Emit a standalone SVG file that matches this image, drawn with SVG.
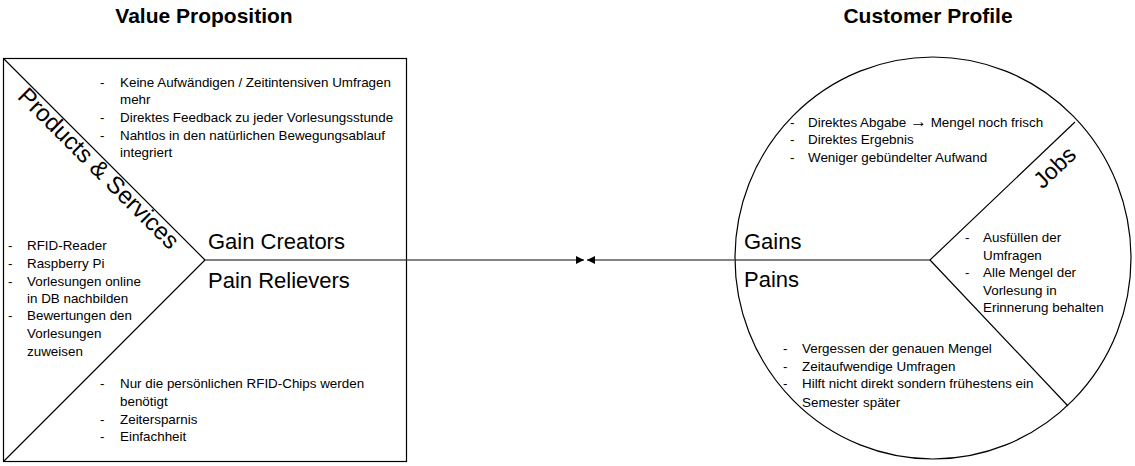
<svg xmlns="http://www.w3.org/2000/svg" width="1135" height="466" viewBox="0 0 1135 466">
<style>
.t{font-family:"Liberation Sans",Arial,sans-serif;font-size:13.4px;fill:#000}
.h{font-family:"Liberation Sans",Arial,sans-serif;font-size:21px;font-weight:bold;fill:#000}
.big{font-family:"Liberation Sans",Arial,sans-serif;font-size:22px;fill:#000}
.ln{stroke:#000;stroke-width:1.2;fill:none}
.cn{stroke:#5a5a5a;stroke-width:1.3;fill:none}
</style>
<defs>
<marker id="ah" markerWidth="8" markerHeight="8" refX="8" refY="4" orient="auto" markerUnits="userSpaceOnUse">
<path d="M0,0 L8,4 L0,8 Z" fill="#000"/>
</marker>
</defs>
<rect width="1135" height="466" fill="#fff"/>
<text class="h" x="204" y="23" text-anchor="middle">Value Proposition</text>
<text class="h" x="928" y="23" text-anchor="middle">Customer Profile</text>

<g id="value-proposition">
<rect class="ln" x="3.5" y="58.5" width="403" height="403"/>
<path class="ln" d="M3.5,58.5 L205,260 L3.5,461.5 M205,260 L406.5,260"/>
<text class="big" transform="translate(93,174) rotate(45)" text-anchor="middle" style="font-size:24px">Products &amp; Services</text>
<text class="big" x="208" y="249">Gain Creators</text>
<text class="big" x="208" y="288">Pain Relievers</text>
<g class="t">
<text x="100" y="87">-</text><text x="120" y="87">Keine Aufwändigen / Zeitintensiven Umfragen</text>
<text x="120" y="104">mehr</text>
<text x="100" y="122">-</text><text x="120" y="122">Direktes Feedback zu jeder Vorlesungsstunde</text>
<text x="100" y="140">-</text><text x="120" y="140">Nahtlos in den natürlichen Bewegungsablauf</text>
<text x="120" y="157">integriert</text>
</g>
<g class="t">
<text x="8" y="250">-</text><text x="27" y="250">RFID-Reader</text>
<text x="8" y="268">-</text><text x="27" y="268">Raspberry Pi</text>
<text x="8" y="286">-</text><text x="27" y="286">Vorlesungen online</text>
<text x="27" y="303">in DB nachbilden</text>
<text x="8" y="320">-</text><text x="27" y="320">Bewertungen den</text>
<text x="27" y="338">Vorlesungen</text>
<text x="27" y="356">zuweisen</text>
</g>
<g class="t">
<text x="100" y="388">-</text><text x="120" y="388">Nur die persönlichen RFID-Chips werden</text>
<text x="120" y="406">benötigt</text>
<text x="100" y="424">-</text><text x="120" y="424">Zeitersparnis</text>
<text x="100" y="441">-</text><text x="120" y="441">Einfachheit</text>
</g>
</g>

<g id="customer-profile">
<ellipse class="ln" cx="933" cy="258" rx="198" ry="201"/>
<path class="ln" d="M735,260 L930,260 L1075,122 M930,260 L1068,406"/>
<text class="big" transform="translate(1060,173) rotate(-43.6)" text-anchor="middle" style="font-size:23px">Jobs</text>
<text class="big" x="744" y="249">Gains</text>
<text class="big" x="744" y="287">Pains</text>
<g class="t">
<text x="790" y="127">-</text><text x="808" y="127">Direktes Abgabe <tspan font-weight="bold" font-size="17px">→</tspan> Mengel noch frisch</text>
<text x="790" y="144">-</text><text x="808" y="144">Direktes Ergebnis</text>
<text x="790" y="162">-</text><text x="808" y="162">Weniger gebündelter Aufwand</text>
</g>
<g class="t">
<text x="965" y="242">-</text><text x="983" y="242">Ausfüllen der</text>
<text x="983" y="260">Umfragen</text>
<text x="965" y="277">-</text><text x="983" y="277">Alle Mengel der</text>
<text x="983" y="295">Vorlesung in</text>
<text x="983" y="312">Erinnerung behalten</text>
</g>
<g class="t">
<text x="783" y="353">-</text><text x="802" y="353">Vergessen der genauen Mengel</text>
<text x="783" y="371">-</text><text x="802" y="371">Zeitaufwendige Umfragen</text>
<text x="783" y="388">-</text><text x="802" y="388">Hilft nicht direkt sondern frühestens ein</text>
<text x="802" y="407">Semester später</text>
</g>
</g>

<g id="connectors">
<line class="cn" x1="406.5" y1="260" x2="584" y2="260" marker-end="url(#ah)"/>
<line class="cn" x1="735" y1="260" x2="587" y2="260" marker-end="url(#ah)"/>
</g>
</svg>
